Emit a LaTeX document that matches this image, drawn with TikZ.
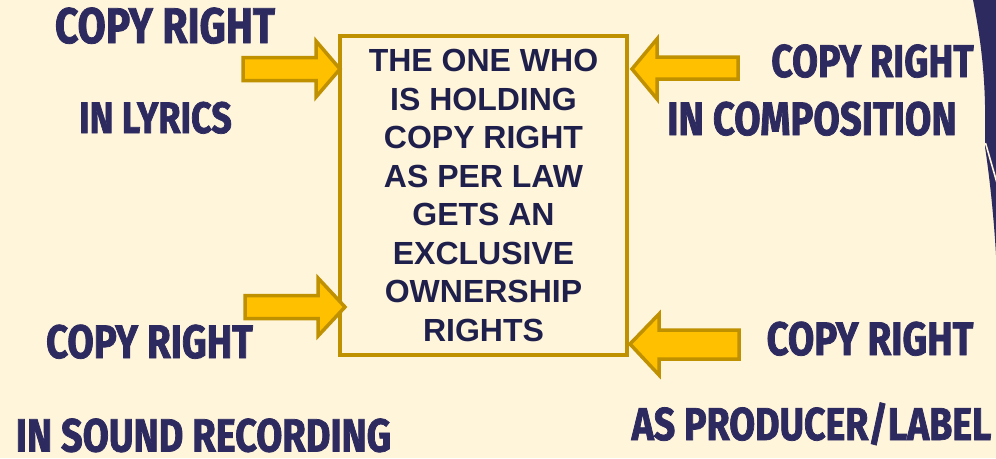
\documentclass[tikz,border=0pt]{standalone}
\usepackage{fontspec}
\setmainfont{Liberation Sans}
\newfontfamily\labelfont[FakeStretch=0.815,FakeBold=1.6]{Fira Sans}
\definecolor{bgcream}{HTML}{FFF5DA}
\definecolor{navy}{HTML}{2D2A60}
\definecolor{boxtext}{HTML}{1F1F4B}
\definecolor{gold}{HTML}{BF9000}
\definecolor{amber}{HTML}{FFC000}
\tikzset{
  lbl/.style={anchor=base, inner sep=0pt, text=navy, font=\labelfont\bfseries\fontsize{#1}{#1}\selectfont},
  blockarrow/.style={draw=gold, fill=amber, line width=3.5pt, line join=miter},
}
\begin{document}
\begin{tikzpicture}[x=1pt,y=-1pt]
\useasboundingbox (0,0) rectangle (996,458);
\fill[bgcream] (0,0) rectangle (996,458);
% right decorative shape
\fill[navy] (973,0) .. controls (981,40) and (986,80) .. (985,130) -- (985,147)
  .. controls (990,180) and (994,220) .. (996,255) -- (996,0) -- cycle;
\draw[bgcream, line width=1.6pt] (985.5,143) -- (997,183);
% central box
\node[draw=gold, line width=4pt, minimum width=287pt, minimum height=319pt, inner sep=0pt,
      text=boxtext, align=center, font=\bfseries\fontsize{32}{38.5}\selectfont]
  (box) at (483.5,195.5) {THE ONE WHO\\IS HOLDING\\COPY RIGHT\\AS PER LAW\\GETS AN\\EXCLUSIVE\\OWNERSHIP\\RIGHTS};
% arrows
\draw[blockarrow] (243,57.5) -- (316,57.5) -- (316,41) -- (340,69) -- (316,97) -- (316,80.5) -- (243,80.5) -- cycle;
\draw[blockarrow] (245,295.5) -- (318,295.5) -- (318,278) -- (345,307) -- (318,336) -- (318,318.5) -- (245,318.5) -- cycle;
\draw[blockarrow] (738,57) -- (657,57) -- (657,39) -- (632,69) -- (657,99) -- (657,79) -- (738,79) -- cycle;
\draw[blockarrow] (739,330) -- (659,330) -- (659,314) -- (630,344) -- (659,375) -- (659,359) -- (739,359) -- cycle;
% labels
\node[lbl=50] (l1) at (165,43) {COPY RIGHT};
\node[lbl=44] (l2) at (155.5,133) {IN LYRICS};
\node[lbl=46] (r1) at (872.5,77) {COPY RIGHT};
\node[lbl=47] (r2) at (812,135) {IN COMPOSITION};
\node[lbl=47] (bl1) at (149.5,358) {COPY RIGHT};
\node[lbl=46.5] (bl2) at (203.5,451.5) {IN SOUND RECORDING};
\node[lbl=47] (br1) at (870,355) {COPY RIGHT};
\node[lbl=46] (br2) at (811.5,440) {AS PRODUCER/LABEL};
\end{tikzpicture}
\end{document}
